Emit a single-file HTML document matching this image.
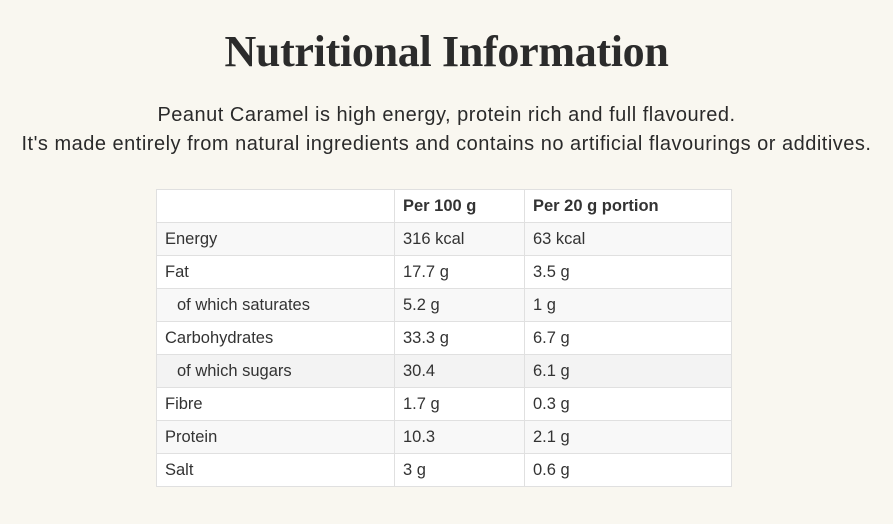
<!DOCTYPE html>
<html><head><meta charset="utf-8"><style>
html,body{margin:0;padding:0;width:893px;height:524px;background:#f9f7f0;overflow:hidden;color:#2a2a2a}
h1{position:absolute;left:0;top:23px;width:893px;margin:0;text-align:center;font-family:"Liberation Serif",serif;font-weight:bold;font-size:44px;line-height:58px;color:#2b2b2b;letter-spacing:-0.3px}
.sub{position:absolute;left:0;top:101px;width:893px;text-align:center;font-family:"Liberation Sans",sans-serif;font-size:20px;letter-spacing:0.5px;line-height:29px;margin:0;color:#2a2a2a}
table{position:absolute;left:156px;top:189px;border-collapse:collapse;font-family:"Liberation Sans",sans-serif;font-size:16.5px;color:#333}
td,th{border:1px solid #e0e0e0;height:33px;padding:0 8px;text-align:left;box-sizing:border-box}
th{font-weight:bold;background:#fff}
tr{background:#fff}
tr.g{background:#f8f8f8}
tr.h{background:#f3f3f3}
.in{padding-left:20px}
</style></head><body>
<h1>Nutritional Information</h1>
<div class="sub">Peanut Caramel is high energy, protein rich and full flavoured.<br>It's made entirely from natural ingredients and contains no artificial flavourings or additives.</div>
<table>
<colgroup><col style="width:238px"><col style="width:130px"><col style="width:207px"></colgroup>
<tr><th></th><th>Per 100 g</th><th>Per 20 g portion</th></tr>
<tr class="g"><td>Energy</td><td>316 kcal</td><td>63 kcal</td></tr>
<tr><td>Fat</td><td>17.7 g</td><td>3.5 g</td></tr>
<tr class="g"><td class="in">of which saturates</td><td>5.2 g</td><td>1 g</td></tr>
<tr><td>Carbohydrates</td><td>33.3 g</td><td>6.7 g</td></tr>
<tr class="h"><td class="in">of which sugars</td><td>30.4</td><td>6.1 g</td></tr>
<tr><td>Fibre</td><td>1.7 g</td><td>0.3 g</td></tr>
<tr class="g"><td>Protein</td><td>10.3</td><td>2.1 g</td></tr>
<tr><td>Salt</td><td>3 g</td><td>0.6 g</td></tr>
</table>
</body></html>
